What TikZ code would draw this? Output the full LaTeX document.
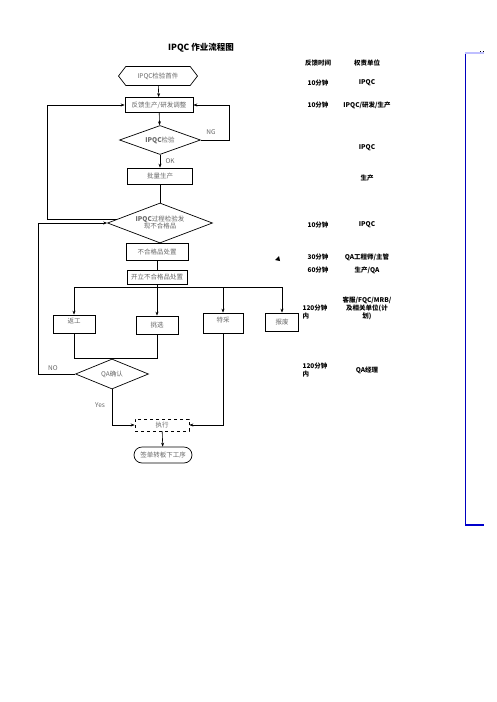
\documentclass[tikz,border=0pt]{standalone}
\usepackage{fontspec}
\newfontfamily\cjk{Noto Sans CJK SC}
\usetikzlibrary{shapes.geometric,shapes.misc,shapes.symbols,arrows.meta}
\tikzset{
  box/.style={draw,line width=.7pt,inner sep=1pt,text=black!60},
  dia/.style={draw,diamond,line width=.7pt,inner sep=0pt,text=black!60},
  arr/.style={-{Stealth[length=4pt,width=3pt]},line width=.6pt},
  info/.style={font=\cjk\bfseries\fontsize{6.5}{8}\selectfont,align=center}
}
\begin{document}
\begin{tikzpicture}[x=1pt,y=-1pt,line width=.6pt,
  every node/.style={font=\cjk\fontsize{6.5}{7.5}\selectfont}]
\useasboundingbox (0,0) rectangle (496,702);
\node[font=\cjk\bfseries\fontsize{8.5}{9}\selectfont] (title) at (201,48) {IPQC\ 作业流程图};
\node[draw,signal,signal to=west and east,signal pointer angle=105,minimum width=79pt,minimum height=19pt,inner sep=0pt,text=black!60,line width=.7pt] (first) at (158,76) {IPQC检验首件};
\node[box,minimum width=68pt,minimum height=15pt] (feedback) at (159,105) {反馈生产/研发调整};
\node[dia,aspect=2.8,minimum width=81pt,minimum height=29pt] (check) at (160,140) {{\bfseries IPQC}检验};
\node[box,minimum width=65pt,minimum height=16pt] (batch) at (160,176) {批量生产};
\node[dia,aspect=2.6,minimum width=105pt,minimum height=40pt,align=center,font=\cjk\fontsize{6.5}{7}\selectfont] (found) at (160,223) {{\bfseries IPQC}过程检验发\\现不合格品};
\node[box,minimum width=62pt,minimum height=17pt] (dispose) at (157,252) {不合格品处置};
\node[box,minimum width=60pt,minimum height=14pt] (issue) at (157,277) {开立不合格品处置};
\node[box,minimum width=42pt,minimum height=18pt,text depth=7pt] (rework) at (74,324) {返工};
\node[box,minimum width=42pt,minimum height=18pt] (select) at (157,325) {挑选};
\node[box,minimum width=40pt,minimum height=20pt,text depth=7pt] (concess) at (223,323) {特采};
\node[box,minimum width=33pt,minimum height=18pt] (scrap) at (282,322) {报废};
\node[dia,aspect=2.4,minimum width=73pt,minimum height=30pt] (qacheck) at (112,374) {QA确认};
\node[box,dashed,minimum width=54pt,minimum height=12pt] (execute) at (162,425) {执行};
\node[draw,rounded rectangle,line width=.7pt,minimum width=60pt,minimum height=16pt,inner sep=1pt,text=black!60] (sign) at (163,455) {签单转板下工序};

\coordinate (ngturn) at (229,140);
\coordinate (backx) at (47,219);
\coordinate (nox) at (38,374);
\coordinate (split) at (157,287);

\draw[arr] (first) -- (feedback);
\draw[arr] (feedback) -- (check);
\draw[arr] (check.east) -- (ngturn) |- (feedback.east);
\node[text=black!60] (ng) at (211,132) {NG};
\draw[arr] (check) -- (batch);
\node[text=black!60,anchor=west] (ok) at (162,161) {OK};
\draw (batch) -- (found);
\draw (found) -- (dispose);
\draw (dispose) -- (issue);
\draw (issue) -- (split);
\draw[arr] (split) -| (rework.north);
\draw[arr] (split) -- (select.north);
\draw[arr] (split) -| (concess.north);
\draw[arr] (split) -| (scrap.north);
\draw[arr] (found.175) -- (found.175 -| backx) |- (feedback.west);
\draw[arr] (qacheck.west) -- (nox) |- (found.west);
\node[text=black!60] (no) at (53,368) {NO};
\draw (rework.south) |- (qacheck.north) -| (select.south);
\draw[arr] (qacheck.south) |- (execute.west);
\node[text=black!60] (yes) at (100,405) {Yes};
\draw[arr] (concess.south) |- (execute.east);
\draw[arr] (execute) -- (sign);

\fill (275,260) -- (279,256) -- (280,261) -- cycle;

\node[info] (hdtime) at (318,63) {反馈时间};
\node[info] (hdunit) at (367,63) {权责单位};
\node[info] (time1) at (318,83) {10分钟};
\node[info] (unit1) at (367,83) {IPQC};
\node[info] (time2) at (318,105) {10分钟};
\node[info] (unit2) at (367,105) {IPQC/研发/生产};
\node[info] (unit3) at (367,148) {IPQC};
\node[info] (unit4) at (367,178) {生产};
\node[info] (time5) at (318,225) {10分钟};
\node[info] (unit5) at (367,225) {IPQC};
\node[info] (time6) at (318,257) {30分钟};
\node[info] (unit6) at (367,257) {QA工程师/主管};
\node[info] (time7) at (318,270) {60分钟};
\node[info] (unit7) at (367,270) {生产/QA};
\node[info,align=left] (time8) at (315,312) {120分钟\\内};
\node[info] (unit8) at (367,308) {客服/FQC/MRB/\\及相关单位(计\\划)};
\node[info,align=left] (time9) at (315,370) {120分钟\\内};
\node[info] (unit9) at (367,370) {QA经理};

\draw[blue!75!black,line width=.8pt] (465,53) -- (465,525);
\draw[blue!25,line width=1.5pt] (465,53) -- (484,53);
\draw[blue!80!black,line width=1.5pt] (465,525) -- (484,525);
\draw[dotted,line width=.6pt] (480,51) -- (485,51);
\end{tikzpicture}
\end{document}
